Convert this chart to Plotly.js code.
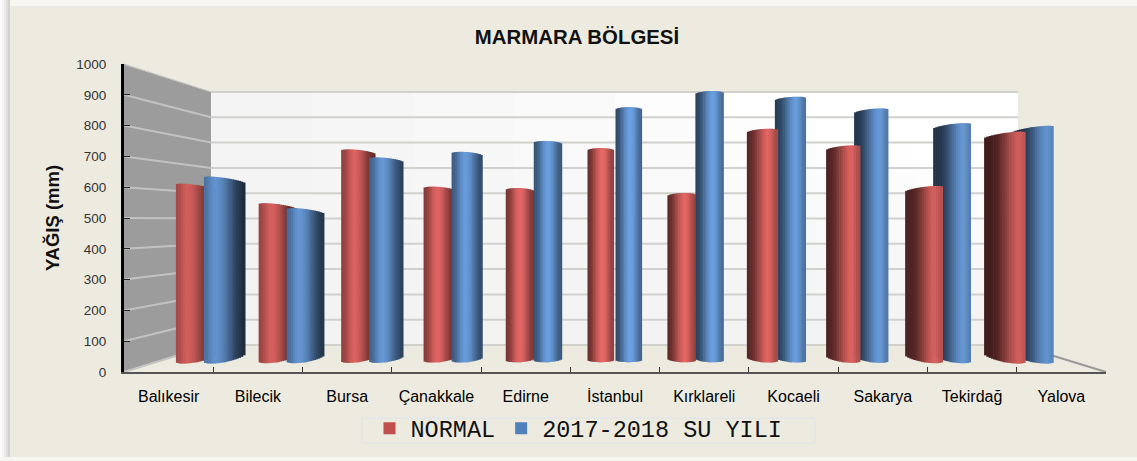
<!DOCTYPE html>
<html><head><meta charset="utf-8">
<script src="https://cdn.plot.ly/plotly-3.0.1.min.js"></script>
<style>html,body{margin:0;padding:0;background:#edebe0}#c{width:1137px;height:461px}</style>
</head><body><div id="c"></div>
<script>
const categories=["Balıkesir","Bilecik","Bursa","Çanakkale","Edirne","İstanbul","Kırklareli","Kocaeli","Sakarya","Tekirdağ","Yalova"];
const normalValues=[607,545,721,601,597,727,581,789,734,601,776];
const waterYearValues=[630,529,695,714,750,860,912,893,854,805,795];
const yTicks=[0,100,200,300,400,500,600,700,800,900,1000];
const seriesNames=["NORMAL","2017-2018 SU YILI"];

const W=1137,H=461;
const fx=x=>x/W, fy=y=>1-y/H;
const AX={l:124,r:1106,t:64,b:372};          // front axis box
const BAR={l:170,r:1059};                    // plane of the cylinders
const WALL={l:211,r:1018,t:92,b:345};        // back wall
const step=(BAR.r-BAR.l)/categories.length;
const unitPx=(AX.b-AX.t)/1000;
const floorValue=32, N=18;
const lerp=(a,b,t)=>a+(b-a)*t, smooth=x=>x*x*(3-2*x);

function cylWidth(i){return 26+15*Math.pow(Math.abs(i-5)/5,1.3);}
function shadeColor(i,u,hl){
  const s=(i-5)/5, p=.57+.29*s;
  const dl=s<0?lerp(.45,.78,-s):lerp(.45,.31,s);
  const dr=s<0?lerp(.62,.30,-s):lerp(.62,.9,s);
  const gain=1-.1*Math.abs(s);
  const f=u<p?dl+(1-dl)*Math.pow(smooth(u/p),1+.7*Math.max(s,0)):1+(dr-1)*smooth((u-p)/(1-p));
  return `rgb(${hl.map(c=>Math.round(c*f*gain)).join(",")})`;
}
function stripTraces(idx,values,centerShift,hl){
  const out=[];
  for(let k=0;k<N;k++){
    const u=(k+.5)/N, t=2*u-1, root=Math.sqrt(1-t*t);
    const x=[],y=[],base=[],width=[],offset=[],color=[];
    idx.forEach(i=>{
      const s=(i-5)/5, w=cylWidth(i);
      const topPx=2.5*(root-1)+3*s*t;
      const botRise=(2+2.5*Math.abs(s))*(1-root)-4*s*t;
      const b=floorValue+botRise/unitPx;
      const top=values[i]+topPx/unitPx;
      x.push(categories[i]);base.push(b);y.push(top-b);
      width.push((w/N+.6)/step);
      offset.push((centerShift+w*(k/N)-w/2)/step);
      color.push(shadeColor(i,u,hl));
    });
    out.push({type:"bar",xaxis:"x2",yaxis:"y",x,y,base,width,offset,
      marker:{color,line:{width:0}},showlegend:false,hoverinfo:"skip"});
  }
  return out;
}
const idxAll=categories.map((_,i)=>i);
function coreTrace(name,values,shift,col){
  return {type:"bar",name,xaxis:"x2",yaxis:"y",x:categories,
    y:values.map(v=>v-floorValue),base:values.map(()=>floorValue),customdata:values,
    hovertemplate:"%{x}: %{customdata} mm<extra>"+name+"</extra>",
    width:values.map(()=>4/step),offset:values.map(()=>(shift-2)/step),
    marker:{color:col,line:{width:0}}};
}
const RED=[232,104,101], BLUE=[108,162,228];
const axisCarrier={type:"scatter",mode:"markers",xaxis:"x",yaxis:"y",x:categories,y:categories.map(()=>0),
  marker:{size:1,opacity:0},showlegend:false,hoverinfo:"skip"};
const traces=[
  axisCarrier,
  coreTrace(seriesNames[0],normalValues,-14,"#c0504d"),
  coreTrace(seriesNames[1],waterYearValues,14,"#4f81bd"),
  ...stripTraces(idxAll.filter(i=>i<=6),normalValues,-14,RED),
  ...stripTraces(idxAll,waterYearValues,14,BLUE),
  ...stripTraces(idxAll.filter(i=>i>=7),normalValues,-14,RED)
];

const shapes=[];
function rect(x0,y0,x1,y1,c){shapes.push({type:"rect",xref:"paper",yref:"paper",x0:fx(x0),x1:fx(x1),y0:fy(y0),y1:fy(y1),fillcolor:c,line:{width:0},layer:"below"});}
function line(x0,y0,x1,y1,c,w){shapes.push({type:"line",xref:"paper",yref:"paper",x0:fx(x0),x1:fx(x1),y0:fy(y0),y1:fy(y1),line:{color:c,width:w},layer:"below"});}
// picture frame
rect(0,0,W,6,"#f7f6f1");
[["#fbfbfb",0],["#f4f4f4",2],["#ebebeb",4],["#dedede",6],["#d2d2d2",8]].forEach(([c,x])=>rect(x,0,x+2,H,c));
rect(0,457,W,H,"#f7f6f1");
// back wall tiles
const cols=8,rows=10;
for(let c=0;c<cols;c++)for(let r=0;r<rows;r++){
  const x0=Math.round(lerp(WALL.l,WALL.r,c/cols)),x1=Math.round(lerp(WALL.l,WALL.r,(c+1)/cols));
  const y0=Math.round(lerp(WALL.t,WALL.b,r/rows)),y1=Math.round(lerp(WALL.t,WALL.b,(r+1)/rows));
  const v=Math.round(243+12*Math.min(1,Math.max(0,(c+.5)/cols*1.5*(1-(r+.5)/rows*1.1))));
  rect(x0,y0,x1,y1,`rgb(${v},${v},${v})`);
}
// side wall
shapes.push({type:"path",xref:"paper",yref:"paper",
  path:`M${fx(AX.l-2)},${fy(AX.t)} L${fx(WALL.l)},${fy(WALL.t)} L${fx(WALL.l)},${fy(WALL.b)} L${fx(AX.l-2)},${fy(AX.b)} Z`,
  fillcolor:"#9c9c9c",line:{width:0},layer:"below"});
yTicks.forEach(v=>{
  const yf=AX.b-v*unitPx, yb=WALL.b-v*(WALL.b-WALL.t)/1000;
  line(AX.l,yf,WALL.l,yb,v===0?"#c4c4c0":"#c2c2c2",v===1000?1:2);
  line(WALL.l,yb,WALL.r,yb,"#d0d0cd",2);
});
line(WALL.r,WALL.b,AX.r,AX.b,"#9a9a9a",2);
// legend box
shapes.push({type:"rect",xref:"paper",yref:"paper",x0:fx(362),x1:fx(815),y0:fy(418),y1:fy(443),fillcolor:"rgba(0,0,0,0)",line:{color:"#dde4ee",width:1},layer:"below"});

const layout={
  width:W,height:H,margin:{l:0,r:0,t:0,b:0},autosize:false,
  paper_bgcolor:"#edebe0",plot_bgcolor:"rgba(0,0,0,0)",barmode:"overlay",
  font:{family:"Liberation Sans",color:"#111"},
  title:{text:"MARMARA BÖLGESİ",x:577/W,xanchor:"center",xref:"paper",y:fy(37),yanchor:"middle",yref:"paper",
    font:{family:"Liberation Sans",size:20.4,weight:700,color:"#111"}},
  xaxis:{type:"category",categoryorder:"array",categoryarray:categories,range:[-.5,10.5],
    domain:[fx(AX.l),fx(AX.r)],anchor:"y",tickmode:"array",tickvals:categories,ticktext:categories,
    tickson:"boundaries",ticks:"inside",ticklen:5,tickcolor:"#333",tickwidth:1,
    showline:true,linecolor:"#555",linewidth:2,showgrid:false,zeroline:false,
    tickfont:{family:"Liberation Sans",size:16,color:"#000"},ticklabelstandoff:9},
  xaxis2:{type:"category",categoryorder:"array",categoryarray:categories,range:[-.5,10.5],
    domain:[fx(BAR.l),fx(BAR.r)],anchor:"y",visible:false,showgrid:false,zeroline:false},
  yaxis:{range:[0,1000],domain:[fy(AX.b),fy(AX.t)],anchor:"x",tickmode:"array",tickvals:yTicks,
    ticks:"inside",ticklen:6,tickcolor:"#222",tickwidth:1,showline:true,linecolor:"#000",linewidth:3,
    showgrid:false,zeroline:false,tickfont:{family:"Liberation Sans",size:13.5,color:"#333"},
    ticklabelstandoff:12,
    title:{text:"YAĞIŞ (mm)",standoff:12,font:{family:"Liberation Sans",size:18.5,weight:700,color:"#111"}}},
  legend:{orientation:"h",x:fx(368.5),xanchor:"left",y:fy(428.5),yanchor:"middle",bgcolor:"rgba(0,0,0,0)",itemwidth:32,
    borderwidth:0,font:{family:"Liberation Mono",size:23.5,color:"#111"},itemclick:false,itemdoubleclick:false,traceorder:"normal"},
  shapes
};
Plotly.newPlot("c",traces,layout,{displayModeBar:false,responsive:false,staticPlot:false});
</script></body></html>
